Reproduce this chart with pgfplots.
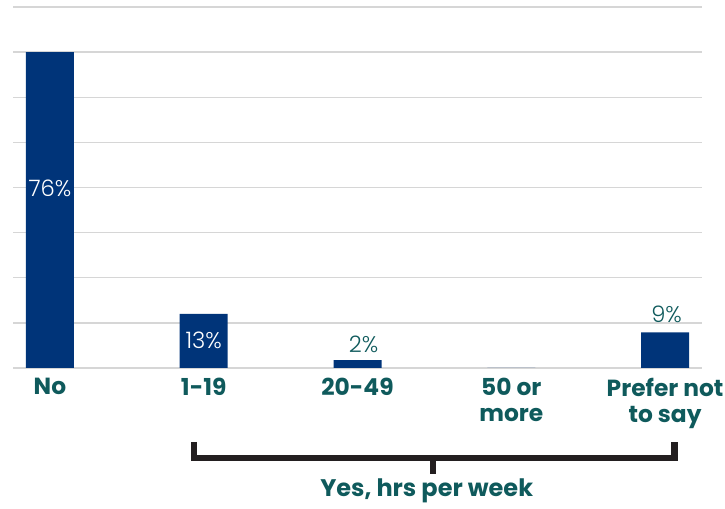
\documentclass[border=0pt]{standalone}
\usepackage{pgfplots}
\pgfplotsset{compat=1.18}
\usepackage{fontspec}
\setmainfont{Poppins}
\newfontfamily\lightfont{Poppins Light}
\definecolor{barblue}{RGB}{0,52,121}
\definecolor{teal}{RGB}{15,90,92}
\definecolor{gridgray}{RGB}{214,214,214}
\definecolor{bracket}{RGB}{35,31,32}
\begin{document}
\begin{tikzpicture}
\useasboundingbox (-9.75pt,-105.75pt) rectangle (534pt,276pt);
\begin{axis}[
  at={(0,0)}, anchor=south west,
  scale only axis, width=516.75pt, height=270.75pt,
  xmin=-0.24, xmax=4.24, ymin=0, ymax=86.857,
  ytick={0,10.857,21.714,32.571,43.429,54.286,65.143,76,86.857},
  yticklabels={},
  ymajorgrids, grid style={gridgray, line width=1.1pt},
  axis line style={draw=none},
  major tick length=0pt,
  xtick={0,1,2,3,4},
  xticklabels={No,1-19,20-49,50 or\\more,Prefer not\\to say},
  xticklabel style={align=center, font=\fontsize{17.5}{19.5}\selectfont\bfseries, text=teal, yshift=-4pt},
  clip=false,
]
\addplot[ybar, bar width=36pt, fill=barblue, draw=none] coordinates {(0,76) (1,13) (2,1.9) (3,0) (4,8.6)};
\node[text=white, font=\fontsize{17}{20}\lightfont] at (axis cs:0,43.3) {76\%};
\node[text=white, font=\fontsize{17}{20}\lightfont] at (axis cs:1,6.7) {13\%};
\node[text=teal, font=\fontsize{17}{20}\lightfont] at (axis cs:2.04,5.6) {2\%};
\node[text=teal, font=\fontsize{17}{20}\lightfont] at (axis cs:4.01,12.8) {9\%};
\draw[bracket, line width=4.9pt, line cap=butt]
  (axis cs:0.937,-17.8) -- (axis cs:0.937,-21.7) -- (axis cs:4.06,-21.7) -- (axis cs:4.06,-17.8);
\draw[bracket, line width=4.9pt] (axis cs:2.49,-21.7) -- (axis cs:2.49,-25.5);
\node[text=teal, font=\fontsize{18}{20}\selectfont\bfseries] at (axis cs:2.45,-29.6) {Yes, hrs per week};
\end{axis}
\end{tikzpicture}
\end{document}
